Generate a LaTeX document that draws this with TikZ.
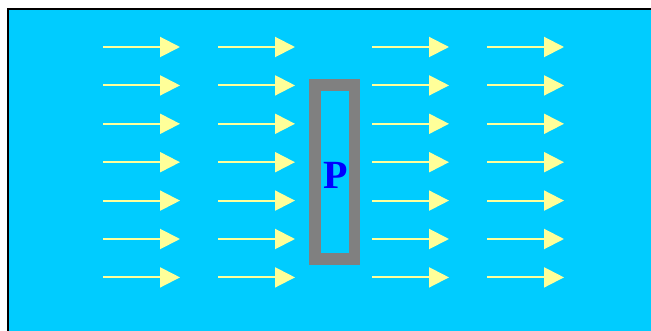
\documentclass[tikz,border=0pt]{standalone}
\usepackage{fontspec}
\setmainfont{Liberation Serif}
\usetikzlibrary{arrows.meta}
\definecolor{bgcyan}{HTML}{00CCFF}
\definecolor{arrowyel}{HTML}{FFFF99}
\definecolor{framegray}{HTML}{808080}
\definecolor{letterblue}{HTML}{0000FF}
\tikzset{
  flow/.style={draw=arrowyel, line width=2pt, -{Triangle[length=20pt,width=20pt]}},
}
\begin{document}
\begin{tikzpicture}[x=1pt,y=-1pt]
\useasboundingbox (0,0) rectangle (651,331);
\begin{scope}
\clip (0,0) rectangle (651,331);
\fill[white] (0,0) rectangle (651,331);
\draw[fill=bgcyan, draw=black, line width=2pt] (8,9) rectangle (670,350);
\end{scope}
\foreach \y in {47,85.4,123.8,162.2,200.6,239,277.4} {
  \foreach \x in {103,218,372,487} {
    \coordinate (s) at (\x,\y);
    \coordinate (e) at (\x+77,\y);
    \draw[flow] (s) -- (e);
  }
}
\draw[framegray, line width=11.7pt] (315.2,85.2) rectangle (354.4,259);
\node[text=letterblue, font=\fontsize{40}{40}\selectfont\bfseries, anchor=base] (P) at (336,188.3) {P};
\end{tikzpicture}
\end{document}
